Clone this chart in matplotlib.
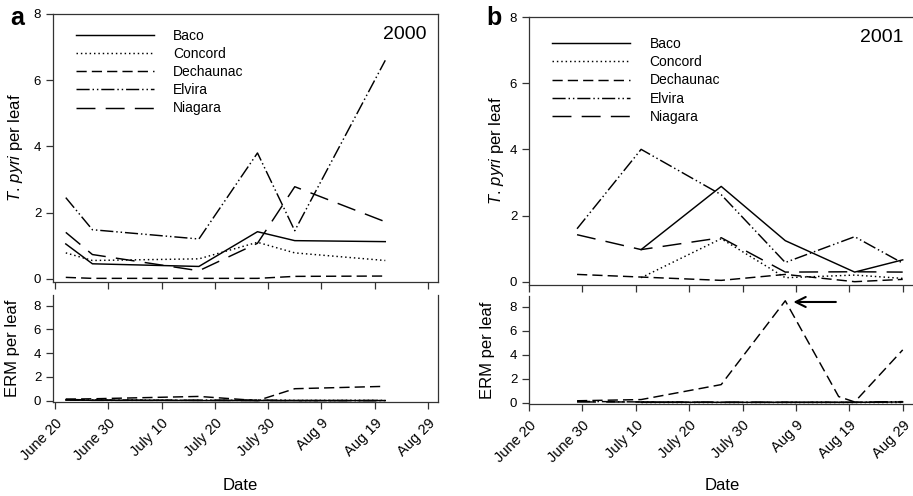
import matplotlib
matplotlib.use('Agg')
from matplotlib import pyplot as plt
import pandas as pd

plt.rcParams['font.family'] = ['Liberation Sans', 'DejaVu Sans']
plt.rcParams['mathtext.fontset'] = 'custom'
plt.rcParams['mathtext.rm'] = 'Liberation Sans'
plt.rcParams['mathtext.it'] = 'Liberation Sans:italic'

cultivars = ['Baco', 'Concord', 'Dechaunac', 'Elvira', 'Niagara']

# 2000 sampling dates and counts
dates_2000 = ['2000-06-22', '2000-06-27', '2000-07-17', '2000-07-28', '2000-08-04', '2000-08-21']
pyri_2000 = {
    'Baco':      [1.05, 0.45, 0.37, 1.42, 1.15, 1.12],
    'Concord':   [0.78, 0.55, 0.60, 1.10, 0.78, 0.55],
    'Dechaunac': [0.04, 0.01, 0.01, 0.01, 0.07, 0.08],
    'Elvira':    [2.45, 1.48, 1.20, 3.80, 1.45, 6.60],
    'Niagara':   [1.40, 0.73, 0.24, 1.07, 2.78, 1.72],
}
erm_2000 = {
    'Baco':      [0.05, 0.02, 0.00, 0.00, 0.00, 0.00],
    'Concord':   [0.08, 0.05, 0.02, 0.02, 0.02, 0.02],
    'Dechaunac': [0.12, 0.15, 0.35, 0.00, 1.00, 1.20],
    'Elvira':    [0.05, 0.02, 0.02, 0.05, 0.00, 0.00],
    'Niagara':   [0.10, 0.05, 0.02, 0.00, 0.00, 0.00],
}

# 2001 sampling dates and counts (Baco and Concord start on the 2nd date)
dates_2001 = ['2001-06-29', '2001-07-11', '2001-07-26', '2001-08-07', '2001-08-20', '2001-08-29']
pyri_2001 = {
    'Baco':      [None, 0.97, 2.88, 1.24, 0.29, 0.66],
    'Concord':   [None, 0.12, 1.30, 0.12, 0.20, 0.10],
    'Dechaunac': [0.22, 0.14, 0.04, 0.22, 0.00, 0.07],
    'Elvira':    [1.60, 4.00, 2.63, 0.58, 1.36, 0.56],
    'Niagara':   [1.42, 0.97, 1.33, 0.29, 0.30, 0.29],
}
erm_2001 = {
    'Baco':      [None, 0.02, 0.02, 0.02, 0.02, 0.05],
    'Concord':   [None, 0.02, 0.02, 0.02, 0.02, 0.02],
    'Elvira':    [0.10, 0.05, 0.02, 0.02, 0.02, 0.08],
    'Niagara':   [0.05, 0.05, 0.02, 0.02, 0.02, 0.05],
}
# Dechaunac ERM in 2001 has one extra sample
erm_dech_dates_2001 = ['2001-06-29', '2001-07-11', '2001-07-26', '2001-08-07',
                       '2001-08-17', '2001-08-20', '2001-08-29']
erm_dech_2001 = [0.15, 0.25, 1.50, 8.50, 0.50, 0.05, 4.40]

tick_labels = ['June 20', 'June 30', 'July 10', 'July 20', 'July 30', 'Aug 9', 'Aug 19', 'Aug 29']

styles = {
    'Baco':      (0, ()),
    'Concord':   (0, (1, 2)),
    'Dechaunac': (0, (7, 3.5)),
    'Elvira':    (0, (9, 2, 1, 2, 1, 2)),
    'Niagara':   (0, (13, 7)),
}

W, H = 913, 496
fig = plt.figure(figsize=(W / 100, H / 100), dpi=100)


def rect(l, r, t, b):
    return [l / W, 1 - b / H, (r - l) / W, (b - t) / H]


def plot_series(ax, dates, vals, name):
    d = pd.to_datetime(pd.Series(dates))
    v = pd.Series(vals, dtype=float)
    m = v.notna()
    ls = '-' if name == 'Baco' else styles[name]
    ax.plot(d[m], v[m], color='black', lw=1.05, linestyle=ls, label=name)


def style_axes(ax, year, xlim, ylim, labels):
    start = pd.Timestamp(f'{year}-06-20')
    ticks = [start + pd.Timedelta(days=10 * i) for i in range(8)]
    ax.set_xlim(start + pd.Timedelta(days=xlim[0]), start + pd.Timedelta(days=xlim[1]))
    ax.set_ylim(*ylim)
    ax.set_xticks(ticks)
    ax.set_yticks([0, 2, 4, 6, 8])
    ax.tick_params(direction='out', length=5, width=0.9, color='#333333')
    ax.tick_params(axis='y', labelsize=9.5)
    ax.tick_params(axis='x', labelsize=10.5, pad=5)
    if labels:
        ax.set_xticklabels(tick_labels, rotation=45, ha='right', va='top',
                           rotation_mode='anchor')
    else:
        ax.set_xticklabels([])
    for s in ax.spines.values():
        s.set_linewidth(0.9)
        s.set_color('#333333')


panels = [
    dict(year=2000, pyri=pyri_2000, erm=erm_2000, dates=dates_2000,
         top=rect(53, 438, 14, 282), bot=rect(53, 438, 295, 402),
         xlim=(-0.4, 71.9), letter='a', lx=17, date_x=240,
         ylab=(-0.073, -0.086), leg_y=0.945),
    dict(year=2001, pyri=pyri_2001, erm=erm_2001, dates=dates_2001,
         top=rect(529, 915, 17, 285), bot=rect(529, 915, 296, 404),
         xlim=(0, 72.3), letter='b', lx=494, date_x=722,
         ylab=(-0.06, -0.088), leg_y=0.925),
]

for p in panels:
    ax1 = fig.add_axes(p['top'])
    ax2 = fig.add_axes(p['bot'])
    for name in cultivars:
        plot_series(ax1, p['dates'], p['pyri'][name], name)
        if name in p['erm']:
            plot_series(ax2, p['dates'], p['erm'][name], name)
    if p['year'] == 2001:
        plot_series(ax2, erm_dech_dates_2001, erm_dech_2001, 'Dechaunac')

    style_axes(ax1, p['year'], p['xlim'], (-0.1, 8), False)
    style_axes(ax2, p['year'], p['xlim'], (-0.12, 8.9), True)
    ax2.spines['top'].set_visible(False)

    ax1.set_ylabel(r'$\mathit{T.\,pyri}$ per leaf', fontsize=12)
    ax2.set_ylabel('ERM per leaf', fontsize=12)
    ax1.yaxis.set_label_coords(p['ylab'][0], 0.5)
    ax2.yaxis.set_label_coords(p['ylab'][1], 0.5)

    ax1.text(0.969, 0.922, str(p['year']), transform=ax1.transAxes,
             ha='right', va='center', fontsize=14)
    ax1.legend(loc='upper left', bbox_to_anchor=(0.06, p['leg_y']),
               frameon=False, fontsize=10, handlelength=5.6, handletextpad=1.4,
               labelspacing=0.3, borderpad=0, borderaxespad=0)

    fig.text(p['lx'] / W, 1 - 18 / H, p['letter'], fontsize=18, fontweight='bold',
             ha='center', va='center')
    fig.text(p['date_x'] / W, 1 - 485 / H, 'Date', fontsize=12, ha='center', va='center')

    if p['year'] == 2001:
        ax2.annotate('', xy=(pd.Timestamp('2001-08-08'), 8.4),
                     xytext=(pd.Timestamp('2001-08-17'), 8.4),
                     arrowprops=dict(arrowstyle='->', lw=1.5, color='black',
                                     mutation_scale=18))

fig.savefig('out.png', dpi=100)
